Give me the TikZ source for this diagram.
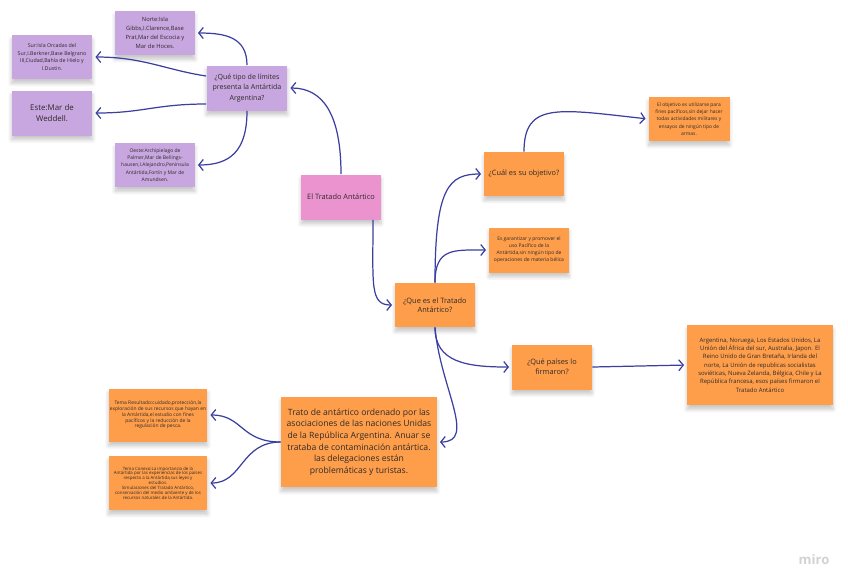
\documentclass[tikz,border=0pt]{standalone}
\usepackage{fontspec}
\setmainfont{Open Sans}
\usepackage{xcolor}
\usetikzlibrary{arrows.meta,calc,shadows.blur}
\definecolor{lila}{HTML}{C8A6DF}
\definecolor{rosa}{HTML}{EA93CF}
\definecolor{naranja}{HTML}{FF9E4A}
\definecolor{tinta}{HTML}{3B3FA0}
\definecolor{texto}{HTML}{2E2A2A}

\begin{document}
\begin{tikzpicture}[x=0.02cm,y=-0.02cm,
  sticky/.style={align=center,inner sep=0pt,text=texto,
    blur shadow={shadow xshift=0pt,shadow yshift=-2.5pt,shadow blur steps=6,shadow opacity=22}},
  lilanote/.style={sticky,fill=lila,minimum width=1.6cm,minimum height=0.88cm},
  naranjanote/.style={sticky,fill=naranja,minimum width=1.6cm,minimum height=0.88cm},
  link/.style={tinta,line width=0.7pt,shorten >=1.5pt,-{Straight Barb[length=0.9mm,width=2.2mm]}}]
  \useasboundingbox (0,0) rectangle (848,583);
  % central topic
  \node[sticky,fill=rosa,minimum width=1.6cm,minimum height=0.9cm,font=\fontsize{4.2}{5.2}\selectfont] (tratado) at (341,197) {El Tratado Antártico};
  % limits branch
  \node[lilanote,minimum width=1.62cm,minimum height=0.9cm,font=\fontsize{4}{6}\selectfont] (limites) at (247,88) {¿Qué tipo de límites\\presenta la Antártida\\Argentina?};
  \node[lilanote,font=\fontsize{3.3}{5.2}\selectfont] (norte) at (155,33) {Norte:Isla\\Gibbs,I.Clarence,Base\\Prat,Mar del Escocia y\\Mar de Hoces.};
  \node[lilanote,minimum width=1.62cm,font=\fontsize{3}{4.2}\selectfont] (sur) at (52,57) {Sur:Isla Orcadas del\\Sur,I.Berkner,Base Belgrano\\III,Ciudad,Bahía de Hielo y\\I.Dustin.};
  \node[lilanote,minimum width=1.62cm,minimum height=0.9cm,font=\fontsize{4.5}{5.8}\selectfont] (este) at (52,113) {Este:Mar de\\Weddell.};
  \node[lilanote,font=\fontsize{2.85}{4.1}\selectfont] (oeste) at (155,165) {Oeste:Archipielago de\\Palmer,Mar de Bellings-\\hausen,I.Alejandro,Peninsula\\Antártida,Fortín y Mar de\\Amundsen.};
  % treaty branch
  \node[naranjanote,font=\fontsize{4.2}{5.4}\selectfont] (que) at (435,305) {¿Que es el Tratado\\Antártico?};
  \node[naranjanote,font=\fontsize{4.2}{5.2}\selectfont] (cual) at (524,174) {¿Cuál es su objetivo?};
  \node[naranjanote,minimum width=1.62cm,font=\fontsize{2.8}{4.1}\selectfont] (objetivo) at (689,119) {El objetivo es utilizarse para\\fines pacíficos,sin dejar hacer\\todas actividades militares y\\ensayos de ningún tipo de\\armas.};
  \node[naranjanote,minimum height=0.9cm,font=\fontsize{2.85}{4}\selectfont] (garant) at (529,250) {Es garantizar y promover el\\uso Pacífico de la\\Antártida,sin ningún tipo de\\operaciones de materia bélica};
  \node[naranjanote,minimum height=0.9cm,font=\fontsize{4.2}{5.6}\selectfont] (paises) at (552,367) {¿Qué países lo\\firmaron?};
  \node[naranjanote,minimum width=2.92cm,minimum height=1.6cm,font=\fontsize{3.4}{4.7}\selectfont] (firmantes) at (760,365) {Argentina, Noruega, Los Estados Unidos, La\\Unión del África del sur, Australia, Japon. El\\Reino Unido de Gran Bretaña, Irlanda del\\norte, La Unión de republicas socialistas\\soviéticas, Nueva Zelanda, Bélgica, Chile y La\\República francesa, esos países firmaron el\\Tratado Antártico};
  % summary
  \node[naranjanote,minimum width=3.12cm,minimum height=1.8cm,font=\fontsize{4.9}{6.6}\selectfont] (trato) at (359,442) {Trato de antártico ordenado por las\\asociaciones de las naciones Unidas\\de la República Argentina. Anuar se\\trataba de contaminación antártica.\\las delegaciones están\\problemáticas y turistas.};
  \node[naranjanote,minimum width=1.98cm,minimum height=1.06cm,font=\fontsize{2.8}{3.3}\selectfont] (resultado) at (158,415) {Tema Resultado:cuidado,protección,la\\exploración de sus recursos que hayan en\\la Antártida,el estudio con fines\\pacíficos y la reducción de la\\regulación de pesca.};
  \node[naranjanote,minimum width=1.98cm,minimum height=1.08cm,font=\fontsize{2.5}{2.75}\selectfont] (conexo) at (158,483) {Tema Conexo:La importancia de la\\Antártida por las experiencias de los países\\respecto a la Antártida,sus leyes y\\estudios.\\Simulaciones del Tratado Antártico,\\conservación del medio ambiente y de los\\recursos naturales de la Antártida.};
  % watermark
  \node[text=gray!35,font=\fontsize{7.5}{8}\selectfont\bfseries] (miro) at (814,560) {miro};
  % connectors
  \draw[link] (tratado.north) .. controls +(0,-60) and +(35,0) .. (limites.east);
  \draw[link] (limites.north) .. controls +(0,-28) and +(30,0) .. (norte.east);
  \draw[link] ($(limites.west)+(0,-12)$) .. controls +(-40,-6) and +(50,0) .. (sur.east);
  \draw[link] ($(limites.west)+(0,16)$) .. controls +(-50,0) and +(50,0) .. (este.east);
  \draw[link] (limites.south) .. controls +(0,40) and +(35,0) .. (oeste.east);
  \draw[link] ($(tratado.south)+(32,0)$) .. controls +(0,65) and +(-25,0) .. (que.west);
  \draw[link] (que.north) .. controls +(0,-95) and +(-35,0) .. (cual.west);
  \draw[link] (que.north) .. controls +(0,-35) and +(-35,0) .. (garant.west);
  \draw[link] (cual.north) .. controls +(0,-50) and +(-90,-10) .. (objetivo.west);
  \draw[link] (que.south) .. controls +(0,35) and +(-45,0) .. (paises.west);
  \draw[link] (que.south) .. controls +(5,60) and +(40,0) .. (trato.east);
  \draw[link] (paises.east) -- (firmantes.west);
  \draw[link] (trato.west) .. controls +(-40,0) and +(35,0) .. (resultado.east);
  \draw[link] (trato.west) .. controls +(-40,0) and +(35,0) .. (conexo.east);
\end{tikzpicture}
\end{document}
